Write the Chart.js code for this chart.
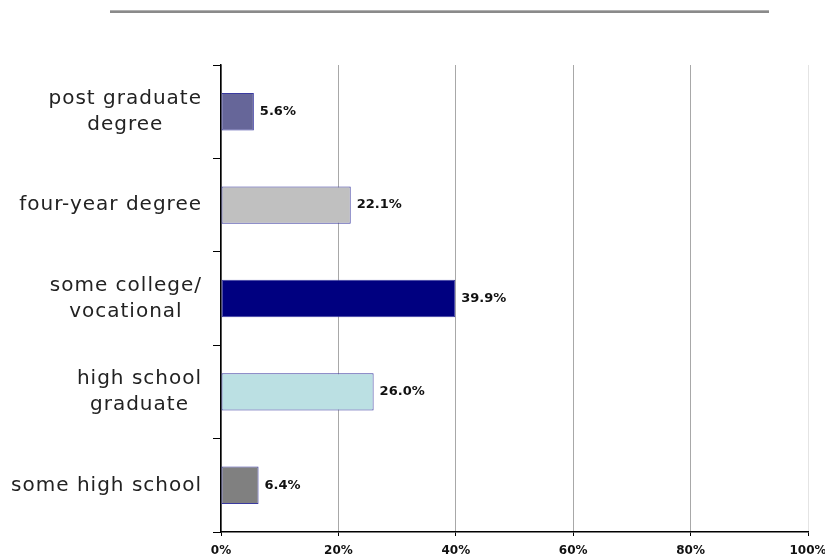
<!DOCTYPE html>
<html>
<head>
<meta charset="utf-8">
<script src="https://cdn.jsdelivr.net/npm/chart.js@4"></script>
<style>
    body { margin: 0; background: #fff; }
    #wrap { position: relative; width: 825px; height: 560px; }
    #rule { position: absolute; left: 110px; top: 10px; width: 659px; height: 3px; background: #8a8a8a; border-top: 1px solid #b0b0b0; box-sizing: border-box; }
    canvas { position: absolute; left: 0; top: 0; }
</style>
</head>
<body>
<div id="wrap">
    <div id="rule"></div>
    <canvas id="chart" width="825" height="560"></canvas>
</div>
<script>
const categories = [
    ['post graduate', 'degree'],
    ['four-year degree'],
    ['some college/', 'vocational'],
    ['high school', 'graduate'],
    ['some high school']
];
const shares = [5.6, 22.1, 39.9, 26.0, 6.4];
const barColors = ['#666699', '#c0c0c0', '#000080', '#bbe0e3', '#808080'];
const xTicks = [0, 20, 40, 60, 80, 100];

const FONT = "'DejaVu Sans', sans-serif";

// category labels: block right-aligned next to the axis, lines centred within the block
const categoryLabels = {
    id: 'categoryLabels',
    afterDraw(chart) {
        const ctx = chart.ctx;
        const y = chart.scales.y;
        const lineH = 26;
        ctx.save();
        ctx.font = '20px ' + FONT;
        ctx.letterSpacing = '1px';
        ctx.fillStyle = '#222';
        ctx.textAlign = 'center';
        ctx.textBaseline = 'middle';
        categories.forEach((lines, i) => {
            const widest = Math.max(...lines.map(l => ctx.measureText(l).width));
            const cx = 202 - widest / 2;
            const cy = y.getPixelForTick(i);
            lines.forEach((l, k) => {
                ctx.fillText(l, cx, cy + (k - (lines.length - 1) / 2) * lineH);
            });
        });
        ctx.restore();
    }
};

// value labels drawn just past the end of each bar
const valueLabels = {
    id: 'valueLabels',
    afterDatasetsDraw(chart) {
        const ctx = chart.ctx;
        const meta = chart.getDatasetMeta(0);
        ctx.save();
        ctx.font = 'bold 13px ' + FONT;
        ctx.fillStyle = '#111';
        ctx.textAlign = 'left';
        ctx.textBaseline = 'middle';
        meta.data.forEach((bar, i) => {
            ctx.fillText(shares[i].toFixed(1) + '%', bar.x + 6, bar.y);
        });
        ctx.restore();
    }
};

new Chart(document.getElementById('chart').getContext('2d'), {
    type: 'bar',
    data: {
        labels: categories.map(l => l.join(' ')),
        datasets: [{
            data: shares,
            backgroundColor: barColors,
            borderColor: '#3a3aa0',
            borderWidth: 1,
            borderSkipped: false,
            barPercentage: 0.4,
            categoryPercentage: 1
        }]
    },
    options: {
        indexAxis: 'y',
        responsive: false,
        animation: false,
        layout: { padding: { top: 65, right: 17, left: 0, bottom: 0 } },
        plugins: {
            legend: { display: false },
            tooltip: { enabled: false }
        },
        scales: {
            x: {
                min: 0,
                max: 100,
                afterBuildTicks: (s) => { s.ticks = xTicks.map(v => ({ value: v })); },
                afterFit: (s) => { s.height = 28; s.paddingLeft = 0; s.paddingRight = 0; },
                border: { color: '#000', width: 1.5 },
                grid: {
                    color: (c) => c.tick && c.tick.value === 100 ? '#e4e4e4' : '#a8a8a8',
                    tickColor: '#000',
                    tickLength: 4,
                    lineWidth: 1
                },
                ticks: {
                    font: { family: FONT, size: 12, weight: 'bold' },
                    color: '#111',
                    padding: 8,
                    callback: (v) => v + '%'
                }
            },
            y: {
                afterFit: (s) => { s.width = 221; s.paddingTop = 0; s.paddingBottom = 0; },
                border: { color: '#000', width: 1.5 },
                grid: { drawOnChartArea: false, offset: true, tickColor: '#000', tickLength: 8 },
                ticks: {
                    font: { family: FONT, size: 20 },
                    color: 'rgba(0,0,0,0)',
                    padding: 10
                }
            }
        }
    },
    plugins: [valueLabels, categoryLabels]
});
</script>
</body>
</html>
